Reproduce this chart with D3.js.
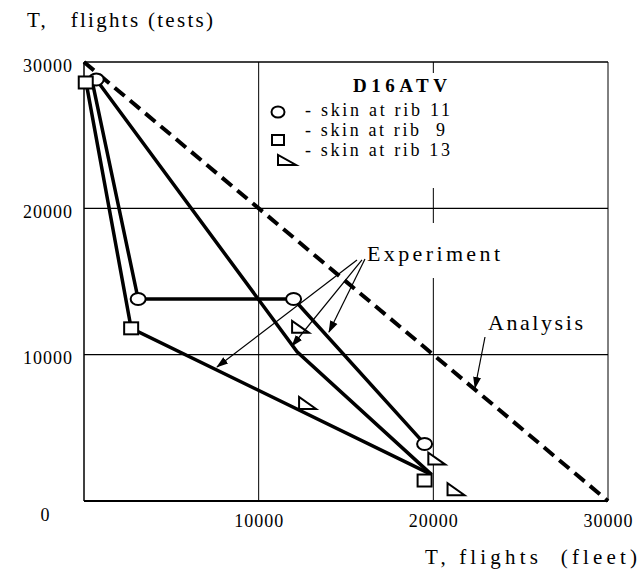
<!DOCTYPE html>
<meta charset="utf-8">
<style>
body { margin: 0; background: #fff; }
text { font-family: "Liberation Serif", "DejaVu Serif", serif; fill: #000; }
</style>
<body>
<svg width="642" height="581"></svg>
<script src="https://d3js.org/d3.v7.min.js"></script>
<script>
// values (flights)
var xTicks = [10000, 20000, 30000];
var yTicks = [10000, 20000, 30000];

var rib11Points = [[700, 28800], [3100, 13800], [12000, 13800], [19500, 3900]];
var rib9Points = [[100, 28600], [2700, 11800], [19500, 1400]];
var rib13Points = [[12400, 11900], [12800, 6700], [20200, 2900], [21300, 800]];

var rib11Line = [[500, 28500], [3100, 13800], [12000, 13800], [19500, 3900]];
var rib9Line = [[150, 28400], [2700, 11800], [19900, 1800]];
var rib13Line = [[700, 28800], [12200, 10200], [19900, 1800]];
var analysisLine = [[0, 30000], [30000, 0]];

var legendLabels = ["- skin at rib 11", "- skin at rib  9", "- skin at rib 13"];

// arrows: [from, to] in data units
var experimentArrows = [
  [[15630, 16470], [7614, 9157]],
  [[15916, 16470], [11908, 10592]],
  [[16087, 16538], [14026, 11549]]
];
var analysisArrow = [[22958, 11207], [22385, 7722]];

var margin = {top: 62, right: 34, bottom: 80, left: 84},
    width = 642 - margin.left - margin.right,
    height = 581 - margin.top - margin.bottom;

var svg = d3.select("svg");

svg.append("defs").append("marker")
    .attr("id", "head")
    .attr("markerUnits", "userSpaceOnUse")
    .attr("viewBox", "0 -5 12 10")
    .attr("refX", 11).attr("refY", 0)
    .attr("markerWidth", 12).attr("markerHeight", 10)
    .attr("orient", "auto")
  .append("path")
    .attr("d", "M0,-4L12,0L0,4Z")
    .attr("fill", "#000");

var g = svg.append("g")
    .attr("transform", "translate(" + margin.left + "," + margin.top + ")");

var x = d3.scaleLinear().domain([0, 30000]).range([0, width]);
var y = d3.scaleLinear().domain([0, 30000]).range([height, 0]);

// grid
g.selectAll(".vgrid")
  .data(xTicks.slice(0, 2))
  .enter().append("line")
    .attr("x1", d => x(d)).attr("x2", d => x(d))
    .attr("y1", 0).attr("y2", height)
    .attr("stroke", "#000").attr("stroke-width", 1);
g.selectAll(".hgrid")
  .data(yTicks.slice(0, 2))
  .enter().append("line")
    .attr("x1", 0).attr("x2", width)
    .attr("y1", d => y(d)).attr("y2", d => y(d))
    .attr("stroke", "#000").attr("stroke-width", 1.2);

// white boxes behind legend and label (they hide the grid)
g.append("rect")
    .attr("x", 265 - margin.left).attr("y", 73 - margin.top)
    .attr("width", 190).attr("height", 115)
    .attr("fill", "#fff");
g.append("rect")
    .attr("x", 360 - margin.left).attr("y", 223 - margin.top)
    .attr("width", 145).attr("height", 55)
    .attr("fill", "#fff");

// frame
g.append("line").attr("x1", 0).attr("x2", width).attr("y1", 0).attr("y2", 0)
    .attr("stroke", "#000").attr("stroke-width", 1.5);
g.append("line").attr("x1", width).attr("x2", width).attr("y1", 0).attr("y2", height)
    .attr("stroke", "#000").attr("stroke-width", 1);
g.append("line").attr("x1", 0).attr("x2", 0).attr("y1", 0).attr("y2", height)
    .attr("stroke", "#000").attr("stroke-width", 1.5);
g.append("line").attr("x1", 0).attr("x2", width).attr("y1", height).attr("y2", height)
    .attr("stroke", "#000").attr("stroke-width", 2);

// axes (labels only)
var xAxis = g.append("g")
    .attr("transform", "translate(0," + height + ")")
    .call(d3.axisBottom(x).tickValues(xTicks).tickSize(0).tickPadding(13).tickFormat(d3.format("d")));
var yAxis = g.append("g")
    .call(d3.axisLeft(y).tickValues(yTicks).tickSize(0).tickPadding(11).tickFormat(d3.format("d")));
[xAxis, yAxis].forEach(function (a) {
  a.select(".domain").remove();
  a.attr("font-family", null);
  a.selectAll("text")
    .style("font-size", "18px")
    .style("letter-spacing", "1px");
});
yAxis.selectAll("text").attr("dy", "0.5em");
g.append("text")
    .attr("x", 45 - margin.left).attr("y", height + 20)
    .attr("text-anchor", "middle")
    .style("font-size", "18px")
    .text("0");

// analysis line
var line = d3.line().x(d => x(d[0])).y(d => y(d[1]));
g.append("path")
    .datum(analysisLine)
    .attr("d", line)
    .attr("fill", "none").attr("stroke", "#000")
    .attr("stroke-width", 4).attr("stroke-dasharray", "13,7");

// experiment lines
[rib11Line, rib9Line, rib13Line].forEach(function (l) {
  g.append("path")
    .datum(l)
    .attr("d", line)
    .attr("fill", "none").attr("stroke", "#000")
    .attr("stroke-width", 3.5).attr("stroke-linejoin", "miter");
});

// markers
function tri(w, h) {
  return "M" + (-w / 2) + "," + (-h / 2) + "L" + (-w / 2) + "," + (h / 2) + "L" + (w / 2) + "," + (h / 2) + "Z";
}
g.selectAll(".c11")
  .data(rib11Points)
  .enter().append("ellipse")
    .attr("cx", d => x(d[0])).attr("cy", d => y(d[1]))
    .attr("rx", 7.5).attr("ry", 6)
    .attr("fill", "#fff").attr("stroke", "#000").attr("stroke-width", 2);
g.selectAll(".s9")
  .data(rib9Points)
  .enter().append("rect")
    .attr("x", d => x(d[0]) - 7).attr("y", d => y(d[1]) - 6)
    .attr("width", 14).attr("height", 12)
    .attr("fill", "#fff").attr("stroke", "#000").attr("stroke-width", 2);
g.selectAll(".t13")
  .data(rib13Points)
  .enter().append("path")
    .attr("transform", d => "translate(" + x(d[0]) + "," + y(d[1]) + ")")
    .attr("d", tri(17, 12))
    .attr("fill", "#fff").attr("stroke", "#000").attr("stroke-width", 2);

// annotation arrows
experimentArrows.concat([analysisArrow]).forEach(function (a) {
  g.append("line")
    .attr("x1", x(a[0][0])).attr("y1", y(a[0][1]))
    .attr("x2", x(a[1][0])).attr("y2", y(a[1][1]))
    .attr("stroke", "#000").attr("stroke-width", 1.2)
    .attr("marker-end", "url(#head)");
});

// text labels (page coordinates)
svg.append("text")
    .attr("x", 27).attr("y", 27)
    .attr("textLength", 186).attr("lengthAdjust", "spacing")
    .style("font-size", "21px").style("white-space", "pre")
    .text("T,   flights (tests)");
svg.append("text")
    .attr("x", 425).attr("y", 564)
    .attr("textLength", 212).attr("lengthAdjust", "spacing")
    .style("font-size", "21px").style("white-space", "pre")
    .text("T, flights  (fleet)");
svg.append("text")
    .attr("x", 367).attr("y", 261)
    .attr("textLength", 133).attr("lengthAdjust", "spacing")
    .style("font-size", "22px")
    .text("Experiment");
svg.append("text")
    .attr("x", 488).attr("y", 330)
    .attr("textLength", 95).attr("lengthAdjust", "spacing")
    .style("font-size", "22px")
    .text("Analysis");

// legend
svg.append("text")
    .attr("x", 353).attr("y", 92)
    .attr("textLength", 94).attr("lengthAdjust", "spacing")
    .style("font-size", "19px").style("font-weight", "bold")
    .text("D16ATV");
var legendY = [111, 131, 151];
svg.selectAll(".legtext")
  .data(legendLabels)
  .enter().append("text")
    .attr("x", 305).attr("y", (d, i) => legendY[i] + 5)
    .attr("textLength", (d, i) => i === 1 ? 140 : 145).attr("lengthAdjust", "spacing")
    .style("font-size", "18px").style("white-space", "pre")
    .text(d => d);
svg.append("ellipse")
    .attr("cx", 278).attr("cy", 112).attr("rx", 6.5).attr("ry", 5.5)
    .attr("fill", "#fff").attr("stroke", "#000").attr("stroke-width", 2);
svg.append("rect")
    .attr("x", 272).attr("y", 135).attr("width", 12).attr("height", 10)
    .attr("fill", "#fff").attr("stroke", "#000").attr("stroke-width", 2);
svg.append("path")
    .attr("transform", "translate(287,160)")
    .attr("d", tri(18, 10))
    .attr("fill", "#fff").attr("stroke", "#000").attr("stroke-width", 2);
</script>
</body>
